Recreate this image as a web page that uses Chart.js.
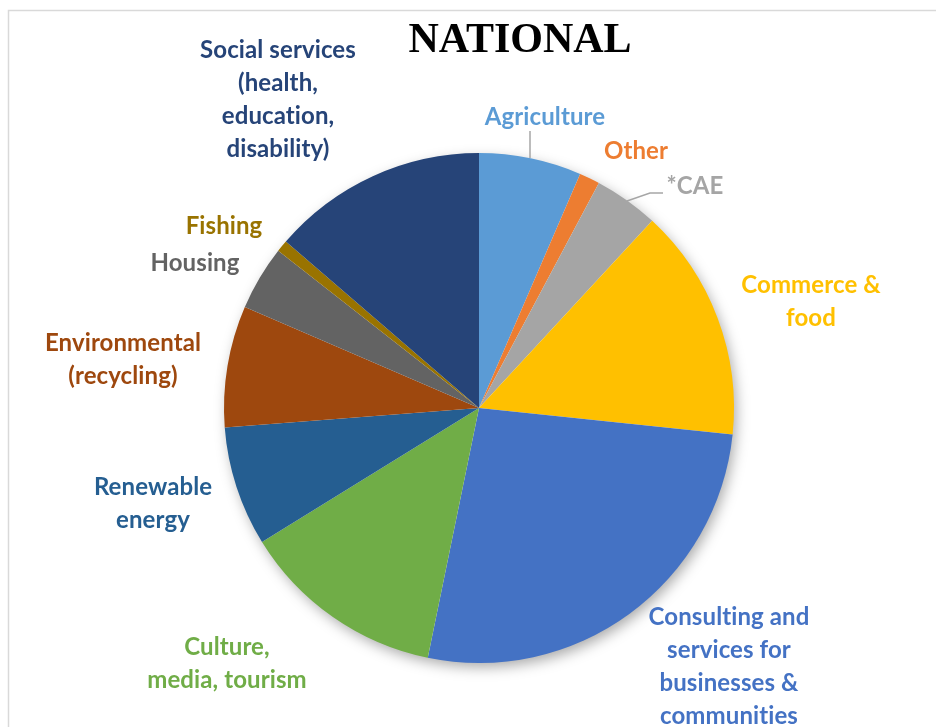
<!DOCTYPE html>
<html>
<head>
<meta charset="utf-8">
<title>National</title>
<script src="https://cdn.jsdelivr.net/npm/chart.js@4.4.1/dist/chart.umd.min.js"></script>
<style>
  html, body { margin: 0; padding: 0; background: #fff; }
  #wrap { position: relative; width: 936px; height: 727px; }
</style>
</head>
<body>
<div id="wrap"><canvas id="nationalChart"></canvas></div>
<script>
// Sectors, clockwise from 12 o'clock (share of organisations, %)
const sectors = ['Agriculture', 'Other', '*CAE', 'Commerce & food', 'Consulting and services for businesses & communities',
    'Culture, media, tourism', 'Renewable energy', 'Environmental (recycling)', 'Housing', 'Fishing',
    'Social services (health, education, disability)'];
const shares = [6.5, 1.3, 4.1, 14.8, 26.6, 13.0, 7.6, 7.7, 4.1, 0.75, 13.7];
const sectorColors = ['#5B9BD5', '#ED7D31', '#A5A5A5', '#FFC000', '#4472C4',
    '#70AD47', '#255E91', '#9E480E', '#636363', '#997300', '#264478'];

// Outside label text (wrapped as drawn) and where each block is centred
const labelLines = [
    ['Agriculture'],
    ['Other'],
    ['*CAE'],
    ['Commerce &', 'food'],
    ['Consulting and', 'services for', 'businesses &', 'communities'],
    ['Culture,', 'media, tourism'],
    ['Renewable', 'energy'],
    ['Environmental', '(recycling)'],
    ['Housing'],
    ['Fishing'],
    ['Social services', '(health,', 'education,', 'disability)']
];
const labelPos = [
    [545, 117], [636, 151], [695, 186], [811, 285], [729, 617],
    [227, 647], [153, 487], [123, 343], [195, 263], [224, 226], [278, 50]
];

// Background frame, title, pie shadow and outside labels
const decorations = {
    id: 'decorations',
    beforeDraw(chart) {
        const ctx = chart.ctx;
        ctx.save();
        ctx.strokeStyle = '#d9d9d9';
        ctx.lineWidth = 1.5;
        ctx.beginPath();
        ctx.moveTo(8.5, 727);
        ctx.lineTo(8.5, 10.5);
        ctx.lineTo(936, 10.5);
        ctx.stroke();
        ctx.restore();
    },
    beforeDatasetsDraw(chart) {
        const arc = chart.getDatasetMeta(0).data[0];
        if (!arc) return;
        const ctx = chart.ctx;
        ctx.save();
        ctx.shadowColor = 'rgba(0,0,0,0.35)';
        ctx.shadowBlur = 14;
        ctx.shadowOffsetX = 3;
        ctx.shadowOffsetY = 5;
        ctx.fillStyle = '#ffffff';
        ctx.beginPath();
        ctx.arc(arc.x, arc.y, arc.outerRadius - 1, 0, Math.PI * 2);
        ctx.fill();
        ctx.restore();
    },
    afterDatasetsDraw(chart) {
        const ctx = chart.ctx;
        ctx.save();

        // title
        ctx.fillStyle = '#000';
        ctx.font = 'bold 42px "Liberation Serif", "Times New Roman", serif';
        ctx.textAlign = 'center';
        ctx.textBaseline = 'middle';
        ctx.fillText('NATIONAL', 520, 41);

        // leader lines for the two small top slices
        ctx.strokeStyle = '#a6a6a6';
        ctx.lineWidth = 1.5;
        ctx.beginPath();
        ctx.moveTo(530, 131);
        ctx.lineTo(530, 158);
        ctx.moveTo(663, 193);
        ctx.lineTo(650, 193);
        ctx.lineTo(627, 201);
        ctx.stroke();

        // sector labels (tiny letter spacing keeps Lato from joining "ti")
        ctx.font = 'bold 24px Lato, "Open Sans", sans-serif';
        if ('letterSpacing' in ctx) ctx.letterSpacing = '0.1px';
        labelLines.forEach((lines, i) => {
            ctx.fillStyle = sectorColors[i];
            const [cx, cy] = labelPos[i];
            lines.forEach((t, j) => {
                ctx.fillText(t, cx, cy + j * 33);
            });
        });
        ctx.restore();
    }
};

new Chart(document.getElementById('nationalChart'), {
    type: 'pie',
    data: {
        labels: sectors,
        datasets: [{
            data: shares,
            backgroundColor: sectorColors,
            borderWidth: 0
        }]
    },
    options: {
        responsive: true,
        maintainAspectRatio: false,
        animation: false,
        layout: {
            padding: { left: 224, right: 202, top: 153, bottom: 64 }
        },
        plugins: {
            legend: { display: false },
            tooltip: { enabled: false }
        }
    },
    plugins: [decorations]
});
</script>
</body>
</html>
